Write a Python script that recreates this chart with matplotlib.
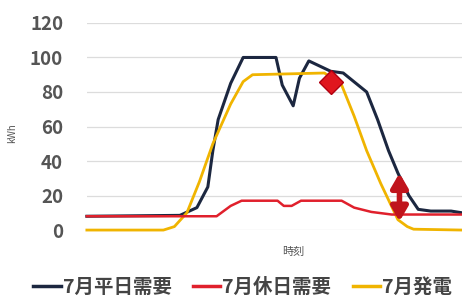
import numpy as np
import matplotlib.pyplot as plt
from matplotlib.patches import FancyArrowPatch

plt.rcParams['font.family'] = ['Noto Sans CJK JP', 'DejaVu Sans']

# hours of the day and kWh values
weekday_t = [0, 5.95, 7.04, 7.74, 8.06, 8.4, 9.2, 10.0, 12.1, 12.5, 13.2, 13.6, 14.2, 15.6, 16.4, 17.9, 18.6, 19.3, 19.9, 20.6, 21.2, 22.0, 23.3, 24]
weekday_kwh = [8, 8.5, 13, 25, 46, 64, 85, 100, 100, 84, 72, 88, 98, 92, 91, 80, 64, 46, 33, 20, 12, 11, 11, 10]

holiday_t = [0, 8.3, 9.2, 9.9, 12.2, 12.6, 13.1, 13.7, 16.3, 17.1, 18.2, 19.5, 24]
holiday_kwh = [8, 8, 14, 17, 17, 14, 14, 17, 17, 13, 10.5, 9, 9]

solar_t = [0, 4.9, 5.6, 6.4, 7.2, 8.06, 9.2, 10.0, 10.6, 15.2, 16.3, 17.1, 17.9, 18.8, 19.9, 20.5, 20.9, 24]
solar_kwh = [0, 0, 2, 10, 28, 50, 73, 86, 90, 91, 84, 66, 46, 27, 6, 2, 0.5, 0]

labels = ['7月平日需要', '7月休日需要', '7月発電']
colors = ['#1c2740', '#e0202c', '#f0b400']

marker_t, marker_kwh = 15.6, 86
arrow_t, arrow_lo, arrow_hi = 20.0, 5, 33

fig = plt.figure(figsize=(4.62, 2.98), dpi=100)
ax = fig.add_axes([0.188, 0.228, 0.812, 0.695])

ax.plot(weekday_t, weekday_kwh, color=colors[0], lw=2.2, label=labels[0], clip_on=False, zorder=3)
ax.plot(holiday_t, holiday_kwh, color=colors[1], lw=1.8, label=labels[1], clip_on=False, zorder=4)
ax.plot(solar_t, solar_kwh, color=colors[2], lw=2.0, label=labels[2], clip_on=False, zorder=3)

ax.plot([marker_t], [marker_kwh], marker='D', ms=12, color='#e0161e', mec='#b00010', zorder=6)
arr = FancyArrowPatch((arrow_t, arrow_lo), (arrow_t, arrow_hi), arrowstyle='<|-|>,head_width=0.35,head_length=0.6',
                      mutation_scale=14, lw=4, color='#c0141c', shrinkA=0, shrinkB=0, zorder=6)
ax.add_patch(arr)

ax.set_xlim(0, 24)
ax.set_ylim(0, 120)
ax.set_yticks(range(0, 121, 20))
ax.set_xticks([])
ax.grid(axis='y', color='#dcdcdc', lw=0.9)
ax.set_axisbelow(True)
for s in ax.spines.values():
    s.set_visible(False)
ax.tick_params(axis='y', length=0, pad=17, labelsize=13.5, labelcolor='#555555')
for t in ax.get_yticklabels():
    t.set_fontweight('bold')

ax.set_ylabel('kWh', fontsize=7, color='#555555')
ax.yaxis.set_label_coords(-0.187, 0.47)
ax.set_xlabel('時刻', fontsize=8, color='#555555')
ax.xaxis.set_label_coords(0.55, -0.08)

leg = fig.legend(loc='center', bbox_to_anchor=(0.525, 0.035), ncol=3, frameon=False,
                 handlelength=1.4, handletextpad=0.1, columnspacing=1.1,
                 prop={'size': 14, 'weight': 'bold'})
for t in leg.get_texts():
    t.set_color('#444444')
for h in leg.get_lines():
    h.set_linewidth(2.5)

fig.savefig('out.png', dpi=100)
